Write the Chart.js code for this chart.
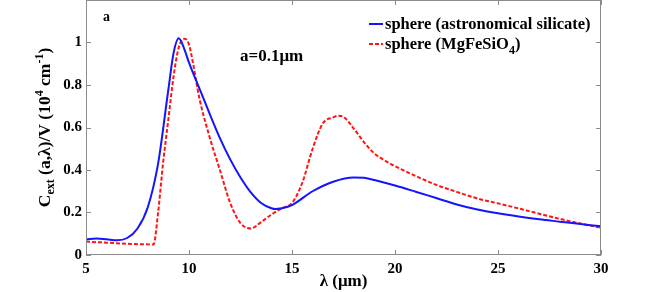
<!DOCTYPE html>
<html>
<head>
<meta charset="utf-8">
<script src="https://cdn.jsdelivr.net/npm/chart.js@4.4.1/dist/chart.umd.min.js"></script>
<style>
  body { margin: 0; background: #fff; }
  #wrap { width: 664px; height: 292px; }
</style>
</head>
<body>
<div id="wrap"><canvas id="chart" width="664" height="292"></canvas></div>
<script>
// wavelength (um) and C_ext/V for the astronomical silicate sphere
const lambdaSil = [5, 5.5, 6, 6.5, 7, 7.5, 8, 8.5, 9, 9.25, 9.5, 9.75, 10, 10.5, 11, 11.5, 12, 12.5, 13, 13.5, 14, 14.2, 14.5, 15, 16, 17, 18, 18.5, 19, 20, 21, 22, 23, 24, 25, 26, 27, 28, 29, 30];
const silicate = [0.074, 0.078, 0.074, 0.069, 0.08, 0.125, 0.225, 0.43, 0.78, 0.95, 1.02, 0.975, 0.905, 0.785, 0.665, 0.55, 0.45, 0.365, 0.295, 0.245, 0.22, 0.216, 0.22, 0.235, 0.3, 0.345, 0.365, 0.363, 0.353, 0.327, 0.298, 0.268, 0.238, 0.214, 0.196, 0.181, 0.168, 0.157, 0.146, 0.135];

// wavelength (um) and C_ext/V for the MgFeSiO4 sphere
const lambdaMg = [5, 6, 7, 8, 8.28, 8.5, 8.75, 9, 9.25, 9.5, 9.8, 10, 10.2, 10.5, 11, 11.5, 12, 12.5, 13, 13.5, 14, 14.5, 15, 15.5, 16, 16.5, 17, 17.25, 17.5, 18, 18.5, 19, 19.5, 20, 21, 22, 23, 24, 25, 26, 27, 28, 29, 30];
const mgfesio = [0.063, 0.058, 0.053, 0.05, 0.05, 0.2, 0.44, 0.64, 0.84, 0.975, 1.018, 0.99, 0.9, 0.74, 0.555, 0.4, 0.245, 0.15, 0.125, 0.155, 0.19, 0.22, 0.245, 0.34, 0.5, 0.62, 0.648, 0.655, 0.65, 0.595, 0.53, 0.478, 0.445, 0.418, 0.372, 0.33, 0.297, 0.266, 0.243, 0.219, 0.194, 0.17, 0.148, 0.128];

const xTicks = [5, 10, 15, 20, 25, 30];
const yTicks = [0, 0.2, 0.4, 0.6, 0.8, 1];

const seriesNames = ['sphere (astronomical silicate)', 'sphere (MgFeSiO', '4', ')'];

const FONT = '"Liberation Serif", "Times New Roman", serif';
const AXIS_GRAY = '#8c8c8c';

function toPoints(xs, ys) {
  return xs.map((x, i) => ({ x: x, y: ys[i] }));
}

// draws a run of text pieces (for sub/superscripts)
function drawRich(ctx, parts, x, y, align) {
  let total = 0;
  parts.forEach(p => {
    ctx.font = 'bold ' + p.size + 'px ' + FONT;
    p.w = ctx.measureText(p.t).width;
    total += p.w;
  });
  let cx = align === 'center' ? x - total / 2 : x;
  parts.forEach(p => {
    ctx.font = 'bold ' + p.size + 'px ' + FONT;
    ctx.fillText(p.t, cx, y + (p.dy || 0));
    cx += p.w;
  });
}

const frameAndText = {
  id: 'frameAndText',
  afterDatasetsDraw(chart) {
    const ctx = chart.ctx;
    const area = chart.chartArea;
    const xs = chart.scales.x;
    const ys = chart.scales.y;
    ctx.save();

    // box and inward ticks
    ctx.strokeStyle = AXIS_GRAY;
    ctx.lineWidth = 1;
    ctx.strokeRect(area.left + 0.5, area.top + 0.5, area.right - area.left - 1, area.bottom - area.top - 1);
    ctx.beginPath();
    xTicks.forEach(v => {
      const px = Math.round(xs.getPixelForValue(v)) + 0.5;
      ctx.moveTo(px, area.bottom); ctx.lineTo(px, area.bottom - 5);
      ctx.moveTo(px, area.top); ctx.lineTo(px, area.top + 5);
    });
    yTicks.forEach(v => {
      const py = Math.round(ys.getPixelForValue(v)) + 0.5;
      ctx.moveTo(area.left, py); ctx.lineTo(area.left + 5, py);
      ctx.moveTo(area.right, py); ctx.lineTo(area.right - 5, py);
    });
    ctx.stroke();

    ctx.fillStyle = '#000';
    ctx.textBaseline = 'alphabetic';
    ctx.textAlign = 'left';

    // panel letter and size note
    ctx.font = 'bold 14px ' + FONT;
    ctx.fillText('a', 103, 21);
    ctx.font = 'bold 17px ' + FONT;
    ctx.fillText('a=0.1\u03bcm', 240, 61);

    // legend
    const ds = chart.data.datasets;
    ctx.lineWidth = 2;
    ctx.strokeStyle = ds[0].borderColor;
    ctx.setLineDash([]);
    ctx.beginPath(); ctx.moveTo(369, 24); ctx.lineTo(383, 24); ctx.stroke();
    ctx.strokeStyle = ds[1].borderColor;
    ctx.setLineDash(ds[1].borderDash);
    ctx.beginPath(); ctx.moveTo(369, 44); ctx.lineTo(383, 44); ctx.stroke();
    ctx.setLineDash([]);
    drawRich(ctx, [{ t: seriesNames[0], size: 16.5 }], 385, 29, 'left');
    drawRich(ctx, [
      { t: seriesNames[1], size: 16.5 },
      { t: seriesNames[2], size: 12, dy: 5 },
      { t: seriesNames[3], size: 16.5 }
    ], 385, 49, 'left');

    // y axis title, rotated
    ctx.translate(50, (area.top + area.bottom) / 2);
    ctx.rotate(-Math.PI / 2);
    drawRich(ctx, [
      { t: 'C', size: 17.5 },
      { t: 'ext', size: 12, dy: 4 },
      { t: ' (a,\u03bb)/V (10', size: 17.5 },
      { t: '4', size: 12, dy: -7 },
      { t: ' cm', size: 17.5 },
      { t: '-1', size: 12, dy: -7 },
      { t: ')', size: 17.5 }
    ], 0, 0, 'center');

    ctx.restore();
  }
};

new Chart(document.getElementById('chart'), {
  type: 'line',
  data: {
    datasets: [
      {
        label: 'sphere (astronomical silicate)',
        data: toPoints(lambdaSil, silicate),
        borderColor: 'rgb(20, 20, 255)',
        borderWidth: 2,
        pointRadius: 0,
        cubicInterpolationMode: 'monotone',
        fill: false
      },
      {
        label: 'sphere (MgFeSiO4)',
        data: toPoints(lambdaMg, mgfesio),
        borderColor: 'rgb(255, 20, 20)',
        borderWidth: 2,
        borderDash: [4, 2],
        pointRadius: 0,
        cubicInterpolationMode: 'monotone',
        fill: false
      }
    ]
  },
  options: {
    responsive: false,
    animation: false,
    layout: { padding: { top: 0, right: 63, bottom: 0, left: 0 } },
    plugins: {
      legend: { display: false },
      tooltip: { enabled: false }
    },
    scales: {
      x: {
        type: 'linear',
        min: 5,
        max: 30,
        afterBuildTicks: (scale) => { scale.ticks = xTicks.map(v => ({ value: v })); },
        afterFit: (scale) => { scale.height = 37; scale.paddingLeft = 0; scale.paddingRight = 0; },
        grid: { display: false, drawTicks: false },
        border: { display: false },
        ticks: {
          padding: 5,
          color: '#000',
          font: { family: FONT, size: 15, weight: 'bold' },
          maxRotation: 0
        },
        title: {
          display: true,
          text: '\u03bb (\u03bcm)',
          color: '#000',
          font: { family: FONT, size: 17, weight: 'bold' },
          padding: 0
        }
      },
      y: {
        type: 'linear',
        min: 0,
        max: 1.2,
        afterBuildTicks: (scale) => { scale.ticks = yTicks.map(v => ({ value: v })); },
        afterFit: (scale) => { scale.width = 86; scale.paddingTop = 0; scale.paddingBottom = 0; },
        grid: { display: false, drawTicks: false },
        border: { display: false },
        ticks: {
          padding: 4,
          color: '#000',
          font: { family: FONT, size: 15, weight: 'bold' },
          callback: (v) => String(+v.toFixed(1))
        }
      }
    }
  },
  plugins: [frameAndText]
});
</script>
</body>
</html>
